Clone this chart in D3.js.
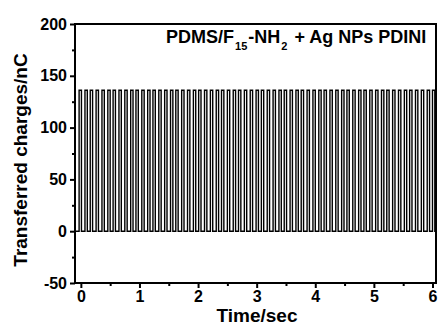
<!DOCTYPE html>
<html>
<head>
<meta charset="utf-8">
<script src="https://cdn.jsdelivr.net/npm/d3@7"></script>
<style>
  body { margin: 0; background: #fff; }
  text { font-family: "Liberation Sans", Arial, sans-serif; font-weight: bold; fill: #000; }
</style>
</head>
<body>
<div id="chart"></div>
<script>
// pulse rise times (s)
var pulseStart = [-0.03, 0.07, 0.16, 0.26, 0.36, 0.46, 0.55, 0.65, 0.75, 0.85,
  0.94, 1.04, 1.14, 1.23, 1.33, 1.43, 1.53, 1.62, 1.72, 1.82,
  1.92, 2.01, 2.11, 2.21, 2.31, 2.40, 2.50, 2.60, 2.69, 2.79,
  2.89, 2.99, 3.08, 3.18, 3.28, 3.38, 3.47, 3.57, 3.67, 3.76,
  3.86, 3.96, 4.06, 4.15, 4.25, 4.35, 4.45, 4.54, 4.64, 4.74,
  4.83, 4.93, 5.03, 5.13, 5.22, 5.32, 5.42, 5.52, 5.61, 5.71,
  5.81, 5.91, 6.00];
// peak charge of each pulse (nC)
var pulsePeak = [136, 136, 136, 136, 136, 136, 136, 136, 136, 136,
  136, 136, 136, 136, 136, 136, 136, 136, 136, 136,
  136, 136, 136, 136, 136, 136, 136, 136, 136, 136,
  136, 136, 136, 136, 136, 136, 136, 136, 136, 136,
  136, 136, 136, 136, 136, 136, 136, 136, 136, 136,
  136, 136, 136, 136, 136, 136, 136, 136, 136, 136,
  136, 136, 136];
var pulseWidth = 0.04;

var xTicks = [0, 1, 2, 3, 4, 5, 6];
var xMinor = [0.5, 1.5, 2.5, 3.5, 4.5, 5.5];
var yTicks = [-50, 0, 50, 100, 150, 200];
var yMinor = [-25, 25, 75, 125, 175];

var width = 439,
    height = 325;

var svg = d3.select('#chart')
  .append('svg')
  .attr('width', width)
  .attr('height', height);

var plotL = 75, plotR = 436, plotT = 24, plotB = 283;

var x = d3.scaleLinear().domain([-0.1, 6.06]).range([plotL, plotR]);
var y = d3.scaleLinear().domain([-50, 200]).range([plotB, plotT]);

// build the square-wave trace
var pts = [[-0.1, 0]];
pulseStart.forEach(function(t, i) {
  pts.push([t, 0], [t, pulsePeak[i]], [t + pulseWidth, pulsePeak[i]], [t + pulseWidth, 0]);
});
pts.push([6.06, 0]);

svg.append('clipPath').attr('id', 'clip')
  .append('rect')
  .attr('x', plotL).attr('y', plotT)
  .attr('width', plotR - plotL).attr('height', plotB - plotT);

svg.append('path')
  .datum(pts)
  .attr('clip-path', 'url(#clip)')
  .attr('fill', 'none')
  .attr('stroke', '#000')
  .attr('stroke-width', 1.4)
  .attr('d', d3.line().x(d => x(d[0])).y(d => y(d[1])));

// frame
svg.append('rect')
  .attr('x', plotL).attr('y', plotT)
  .attr('width', plotR - plotL).attr('height', plotB - plotT)
  .attr('fill', 'none')
  .attr('stroke', '#000')
  .attr('stroke-width', 2);

// axes
svg.append('g')
  .attr('transform', 'translate(0,' + plotB + ')')
  .call(d3.axisBottom(x).tickValues(xTicks).tickSize(5).tickPadding(3).tickFormat(d => String(d)));
svg.append('g')
  .attr('transform', 'translate(0,' + plotB + ')')
  .call(d3.axisBottom(x).tickValues(xMinor).tickSize(3).tickFormat(''));

svg.append('g')
  .attr('transform', 'translate(' + plotL + ',0)')
  .call(d3.axisLeft(y).tickValues(yTicks).tickSize(5).tickPadding(3).tickFormat(d => String(d)));
svg.append('g')
  .attr('transform', 'translate(' + plotL + ',0)')
  .call(d3.axisLeft(y).tickValues(yMinor).tickSize(3).tickFormat(''));

svg.selectAll('.domain').remove();
svg.selectAll('.tick line').attr('stroke', '#000').attr('stroke-width', 2);
svg.selectAll('.tick text')
  .style('font-family', '"Liberation Sans", Arial, sans-serif')
  .style('font-weight', 'bold')
  .style('font-size', '16px')
  .attr('fill', '#000');

// axis titles
svg.append('text')
  .attr('x', 257)
  .attr('y', 322)
  .attr('text-anchor', 'middle')
  .style('font-size', '19px')
  .text('Time/sec');

svg.append('text')
  .attr('transform', 'translate(27,160) rotate(-90)')
  .attr('text-anchor', 'middle')
  .style('font-size', '19px')
  .text('Transferred charges/nC');

// legend label
var lbl = svg.append('text')
  .attr('x', 166)
  .attr('y', 43)
  .style('font-size', '18px');
lbl.append('tspan').text('PDMS/F');
lbl.append('tspan').attr('dy', 7).attr('dx', 1).style('font-size', '11px').text('15');
lbl.append('tspan').attr('dy', -7).attr('dx', 1).text('-NH');
lbl.append('tspan').attr('dy', 7).attr('dx', 1).style('font-size', '11px').text('2');
lbl.append('tspan').attr('dy', -7).attr('dx', 2).text(' + Ag NPs PDINI');
</script>
</body>
</html>
